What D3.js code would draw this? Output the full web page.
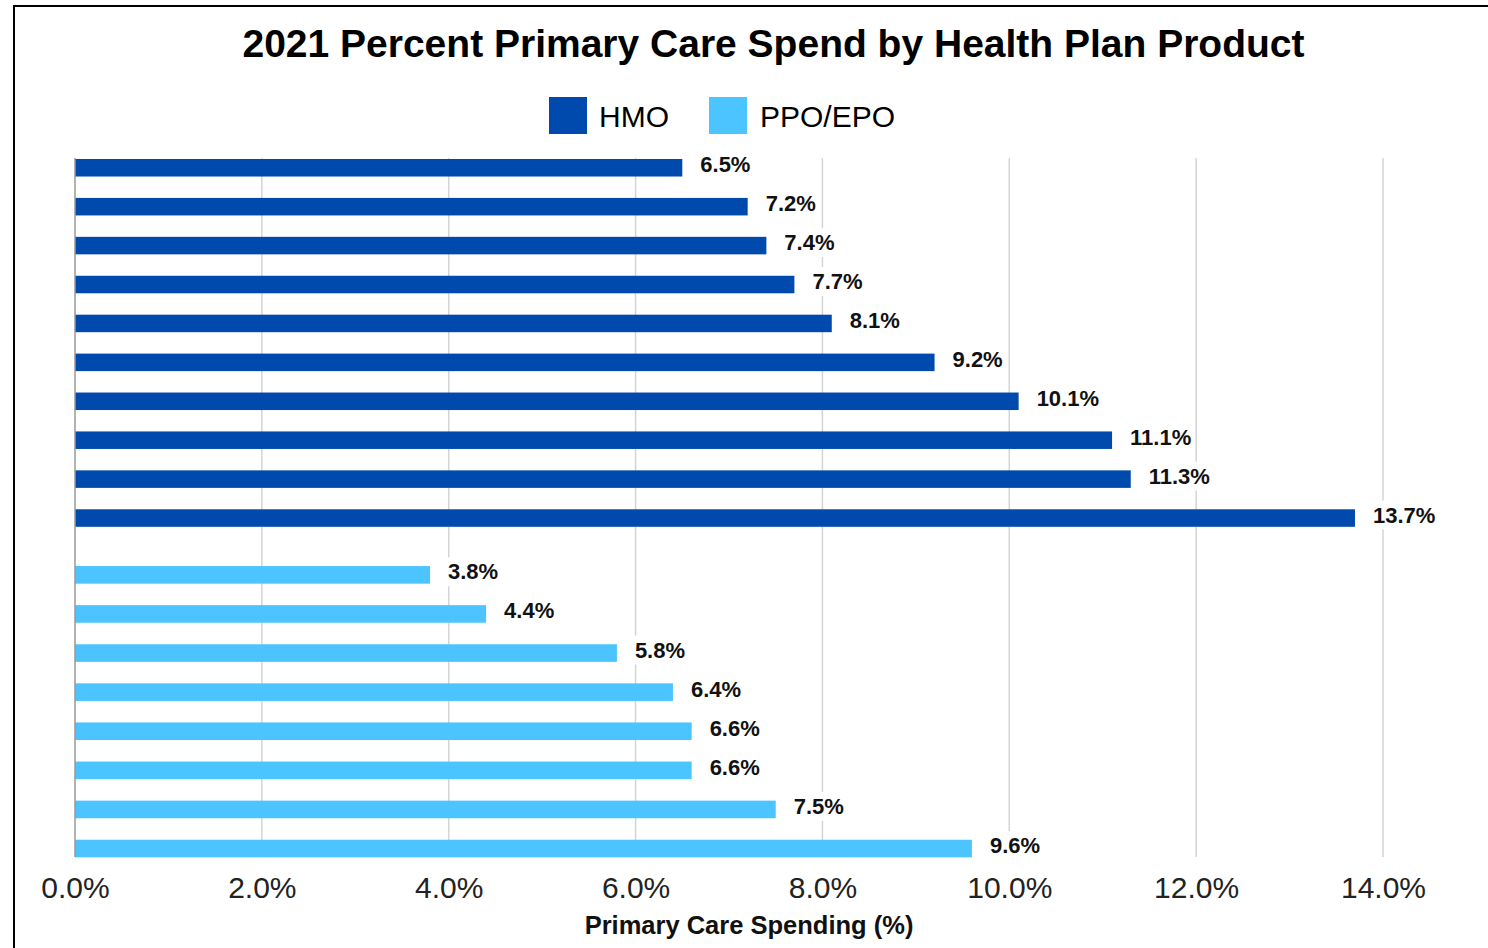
<!DOCTYPE html>
<html>
<head>
<meta charset="utf-8">
<script src="https://cdn.jsdelivr.net/npm/d3@7"></script>
<style>
html,body{margin:0;padding:0;background:#fff;}
svg{display:block;}
text{font-family:"Liberation Sans",Arial,sans-serif;}
</style>
</head>
<body>
<svg id="chart" width="1488" height="948"></svg>
<script>
const title = "2021 Percent Primary Care Spend by Health Plan Product";
const seriesNames = ["HMO", "PPO/EPO"];
const hmoValues = [6.5, 7.2, 7.4, 7.7, 8.1, 9.2, 10.1, 11.1, 11.3, 13.7];
const ppoValues = [3.8, 4.4, 5.8, 6.4, 6.6, 6.6, 7.5, 9.6];
const xTicks = [0, 2, 4, 6, 8, 10, 12, 14];
const xAxisTitle = "Primary Care Spending (%)";
const colors = ["#004AAD", "#4BC4FF"];

const svg = d3.select("#chart");

// frame
svg.append("rect").attr("x", 14).attr("y", 6).attr("width", 1560).attr("height", 1000)
  .attr("fill", "#fff").attr("stroke", "#000").attr("stroke-width", 2);

const x = d3.scaleLinear().domain([0, 14]).range([75, 1383]);
const plotTop = 158, plotBottom = 857;

const yH = d3.scaleBand().domain(d3.range(hmoValues.length)).range([148.3, 537.5])
  .paddingInner(0.55).paddingOuter(0.275);
const yP = d3.scaleBand().domain(d3.range(ppoValues.length)).range([555.3, 868.1])
  .paddingInner(0.55).paddingOuter(0.275);

// gridlines
const grid = svg.append("g");
grid.selectAll("line").data(xTicks.slice(1)).join("line")
  .attr("x1", d => x(d)).attr("x2", d => x(d))
  .attr("y1", plotTop).attr("y2", plotBottom)
  .attr("stroke", "#d4d4d4").attr("stroke-width", 1.5);

// title
svg.append("text").attr("x", 773.5).attr("y", 57).attr("text-anchor", "middle")
  .attr("font-size", 39).attr("font-weight", "bold").attr("fill", "#000").text(title);

// legend
const legendItems = [
  {name: seriesNames[0], color: colors[0], x: 549, tx: 599},
  {name: seriesNames[1], color: colors[1], x: 709, tx: 760}
];
const lg = svg.append("g");
legendItems.forEach(it => {
  lg.append("rect").attr("x", it.x).attr("y", 97).attr("width", 38).attr("height", 37)
    .attr("fill", it.color);
  lg.append("text").attr("x", it.tx).attr("y", 127).attr("font-size", 30)
    .attr("fill", "#000").text(it.name);
});

function drawSeries(values, yScale, color) {
  const g = svg.append("g");
  g.selectAll("rect").data(values).join("rect")
    .attr("x", x(0)).attr("y", (d, i) => yScale(i))
    .attr("width", d => x(d) - x(0)).attr("height", yScale.bandwidth())
    .attr("fill", color);
  const lab = svg.append("g");
  values.forEach((d, i) => {
    const cy = yScale(i) + yScale.bandwidth() / 2 - 3;
    const t = lab.append("text").attr("x", x(d) + 18).attr("y", cy)
      .attr("dominant-baseline", "central")
      .attr("font-size", 22).attr("font-weight", "bold").attr("fill", "#111")
      .text(d.toFixed(1) + "%");
    const bb = t.node().getBBox();
    lab.insert("rect", () => t.node())
      .attr("x", bb.x - 3).attr("y", bb.y - 2).attr("width", bb.width + 6).attr("height", bb.height + 4)
      .attr("fill", "#fff");
  });
}
drawSeries(hmoValues, yH, colors[0]);
drawSeries(ppoValues, yP, colors[1]);

// y axis line at zero
svg.append("line").attr("x1", x(0)).attr("x2", x(0)).attr("y1", plotTop).attr("y2", plotBottom)
  .attr("stroke", "#999").attr("stroke-width", 1.5);

// x axis tick labels
const xAxis = d3.axisBottom(x).tickValues(xTicks).tickSize(0).tickPadding(0)
  .tickFormat(d => d.toFixed(1) + "%");
const ax = svg.append("g").attr("transform", `translate(0,${plotBottom})`).call(xAxis);
ax.select(".domain").remove();
ax.selectAll("text").attr("font-size", 30).attr("fill", "#222")
  .attr("font-family", "'Liberation Sans', Arial, sans-serif")
  .attr("dy", null).attr("y", 41);

// x axis title
svg.append("text").attr("x", 749).attr("y", 934).attr("text-anchor", "middle")
  .attr("font-size", 25.5).attr("font-weight", "bold").attr("fill", "#111").text(xAxisTitle);
</script>
</body>
</html>
